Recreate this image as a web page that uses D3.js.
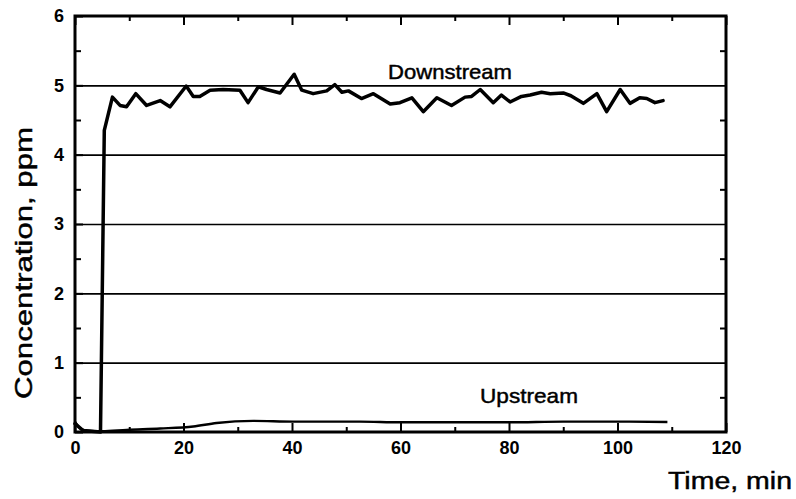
<!DOCTYPE html>
<html>
<head>
<meta charset="utf-8">
<script src="https://cdn.jsdelivr.net/npm/d3@7"></script>
<style>
  html, body { margin: 0; padding: 0; background: #fff; }
  svg { display: block; font-family: "Liberation Sans", Arial, sans-serif; }
  .lbl { fill: #000; stroke: #000; stroke-width: 0.45px; }
</style>
</head>
<body>
<svg id="chart" width="796" height="499"></svg>
<script>
// Downstream concentration (ppm) vs time (min)
const downTime = [0, 1.5, 4.7, 5.4, 6.9, 8.3, 9.5, 11.2, 13.2, 15.7, 17.5, 20.5, 21.8, 23.0, 24.9, 27.3, 30.4, 31.9,
  33.8, 35.3, 37.8, 40.4, 41.8, 43.9, 46.4, 47.9, 49.2, 50.4, 52.8, 55.0, 58.1, 59.9, 62.1, 64.2, 66.7, 69.4,
  71.9, 73.1, 74.7, 77.1, 78.6, 80.2, 82.3, 83.9, 86.0, 87.6, 90.0, 91.4, 93.7, 96.2, 98.0, 100.5, 102.3,
  104.1, 105.4, 106.9, 108.4];
const downConc = [0.12, 0.02, 0.0, 4.35, 4.83, 4.71, 4.69, 4.88, 4.71, 4.78, 4.69, 4.99, 4.84, 4.84, 4.93, 4.94, 4.93, 4.75,
  4.98, 4.94, 4.89, 5.16, 4.93, 4.88, 4.92, 5.01, 4.90, 4.92, 4.81, 4.88, 4.73, 4.75, 4.82, 4.62, 4.82, 4.71,
  4.83, 4.84, 4.94, 4.75, 4.86, 4.76, 4.84, 4.86, 4.90, 4.88, 4.89, 4.85, 4.74, 4.88, 4.62, 4.94, 4.74,
  4.82, 4.81, 4.75, 4.78];

// Upstream concentration (ppm) vs time (min)
const upTime = [0, 1, 2.2, 5, 9.5, 15.7, 21.8, 26.1, 32.9, 40.2, 52.5, 60, 70, 80, 90, 100, 109.2];
const upConc = [0.15, 0.05, 0.02, 0.01, 0.03, 0.05, 0.08, 0.13, 0.16, 0.15, 0.15, 0.14, 0.14, 0.14, 0.15, 0.15, 0.145];

const xMajor = [0, 20, 40, 60, 80, 100, 120];
const xMinor = [10, 30, 50, 70, 90, 110];
const yMajor = [0, 1, 2, 3, 4, 5, 6];
const yMinor = [0.5, 1.5, 2.5, 3.5, 4.5, 5.5];

const svg = d3.select("#chart");
const box = { left: 75, right: 726, top: 16, bottom: 432 };

const x = d3.scaleLinear().domain([0, 120]).range([box.left, box.right]);
const y = d3.scaleLinear().domain([0, 6]).range([box.bottom, box.top]);

// Horizontal grid lines
svg.append("g")
    .attr("transform", `translate(${box.left},0)`)
    .call(d3.axisLeft(y).tickValues([1, 2, 3, 4, 5]).tickSize(-(box.right - box.left)).tickFormat(""))
    .call(g => g.select(".domain").remove())
    .selectAll("line").attr("stroke", "#000").attr("stroke-width", 1.6);

// Bottom axis, major + minor ticks pointing inward
svg.append("g")
    .attr("transform", `translate(0,${box.bottom})`)
    .call(d3.axisBottom(x).tickValues(xMajor).tickSize(-9).tickPadding(9).tickFormat(d3.format("d")))
    .call(g => g.select(".domain").remove())
    .call(g => g.selectAll("line").attr("stroke-width", 2))
    .call(g => g.selectAll("text").style("font-size", "18px").style("font-weight", "bold").attr("fill", "#000"));
svg.append("g")
    .attr("transform", `translate(0,${box.bottom})`)
    .call(d3.axisBottom(x).tickValues(xMinor).tickSize(-5).tickFormat(""))
    .call(g => g.select(".domain").remove())
    .selectAll("line").attr("stroke-width", 2);

// Top axis ticks
svg.append("g")
    .attr("transform", `translate(0,${box.top})`)
    .call(d3.axisTop(x).tickValues(xMajor).tickSize(-9).tickFormat(""))
    .call(g => g.select(".domain").remove())
    .selectAll("line").attr("stroke-width", 2);
svg.append("g")
    .attr("transform", `translate(0,${box.top})`)
    .call(d3.axisTop(x).tickValues(xMinor).tickSize(-5).tickFormat(""))
    .call(g => g.select(".domain").remove())
    .selectAll("line").attr("stroke-width", 2);

// Left axis
svg.append("g")
    .attr("transform", `translate(${box.left},0)`)
    .call(d3.axisLeft(y).tickValues(yMajor).tickSize(-8).tickPadding(11).tickFormat(d3.format("d")))
    .call(g => g.select(".domain").remove())
    .call(g => g.selectAll("line").attr("stroke-width", 2))
    .call(g => g.selectAll("text").style("font-size", "18px").style("font-weight", "bold").attr("fill", "#000"));
svg.append("g")
    .attr("transform", `translate(${box.left},0)`)
    .call(d3.axisLeft(y).tickValues(yMinor).tickSize(-6).tickFormat(""))
    .call(g => g.select(".domain").remove())
    .selectAll("line").attr("stroke-width", 2);

// Right axis ticks
svg.append("g")
    .attr("transform", `translate(${box.right},0)`)
    .call(d3.axisRight(y).tickValues(yMinor).tickSize(-6).tickFormat(""))
    .call(g => g.select(".domain").remove())
    .selectAll("line").attr("stroke-width", 2);

// Frame
svg.append("rect")
    .attr("x", box.left).attr("y", box.top)
    .attr("width", box.right - box.left).attr("height", box.bottom - box.top)
    .attr("fill", "none").attr("stroke", "#000").attr("stroke-width", 3);

// Data lines
const line = d3.line().x(d => x(d[0])).y(d => y(d[1]));
const downData = d3.zip(downTime, downConc);
const upData = d3.zip(upTime, upConc);

svg.append("path").datum(upData)
    .attr("d", line.curve(d3.curveMonotoneX))
    .attr("fill", "none").attr("stroke", "#000").attr("stroke-width", 2.4)
    .attr("stroke-linejoin", "round");

svg.append("path").datum(downData)
    .attr("d", line.curve(d3.curveLinear))
    .attr("fill", "none").attr("stroke", "#000").attr("stroke-width", 3.5)
    .attr("stroke-linejoin", "round").attr("stroke-linecap", "round");

// Series labels
svg.append("text").attr("class", "lbl")
    .attr("x", 450).attr("y", 79).attr("text-anchor", "middle")
    .style("font-size", "21px").attr("textLength", 124).attr("lengthAdjust", "spacingAndGlyphs")
    .text("Downstream");
svg.append("text").attr("class", "lbl")
    .attr("x", 529).attr("y", 403).attr("text-anchor", "middle")
    .style("font-size", "21px").attr("textLength", 98).attr("lengthAdjust", "spacingAndGlyphs")
    .text("Upstream");

// Axis titles
svg.append("text").attr("class", "lbl")
    .attr("transform", "translate(32,263) rotate(-90)")
    .attr("text-anchor", "middle")
    .style("font-size", "24px").attr("textLength", 272).attr("lengthAdjust", "spacingAndGlyphs")
    .text("Concentration, ppm");
svg.append("text").attr("class", "lbl")
    .attr("x", 668).attr("y", 489)
    .style("font-size", "23px").attr("textLength", 124).attr("lengthAdjust", "spacingAndGlyphs")
    .text("Time, min");
</script>
</body>
</html>
